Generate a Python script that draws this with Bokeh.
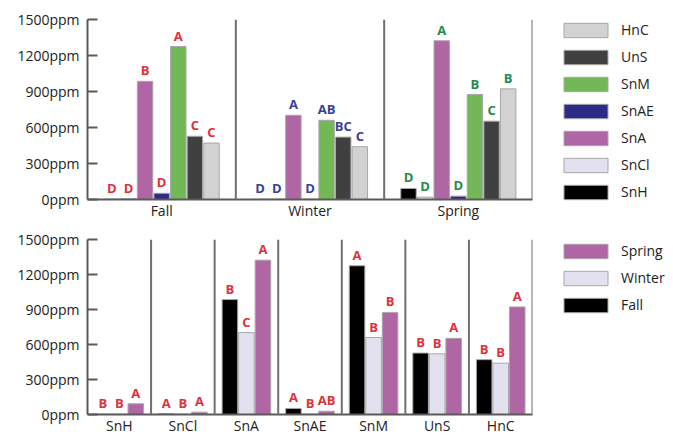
from bokeh.plotting import figure
from bokeh.models import (ColumnDataSource, FactorRange, Range1d, Span, Legend,
                          LegendItem, FixedTicker)
from bokeh.transform import dodge, factor_cmap
from bokeh.layouts import column
from bokeh.core.properties import value
from bokeh.embed import file_html
from bokeh.resources import INLINE

# ---------------- data ----------------
seasons = ["Fall", "Winter", "Spring"]
treatments = ["SnH", "SnCl", "SnA", "SnAE", "SnM", "UnS", "HnC"]

fall = [3, 6, 985, 52, 1275, 527, 470]
winter = [2, 3, 702, 3, 660, 520, 440]
spring = [92, 20, 1323, 28, 875, 653, 922]

# letters (top panel: grouping within season)
fall_letters = ["D", "D", "B", "D", "A", "C", "C"]
winter_letters = ["D", "D", "A", "D", "AB", "BC", "C"]
spring_letters = ["D", "D", "A", "D", "B", "C", "B"]

# letters (bottom panel: grouping within treatment, by season)
fall_letters_b = ["B", "A", "B", "A", "A", "B", "B"]
winter_letters_b = ["B", "B", "C", "B", "B", "B", "B"]
spring_letters_b = ["A", "A", "A", "AB", "B", "A", "A"]

y_ticks = [0, 300, 600, 900, 1200, 1500]
y_tick_labels = ["0ppm", "300ppm", "600ppm", "900ppm", "1200ppm", "1500ppm"]

# ---------------- styles ----------------
FONT = "Open Sans"
treat_colors = ["#000000", "#e3e1f0", "#b065a4", "#2e2a88", "#72b856", "#404040", "#d2d2d2"]
season_bar_colors = ["#000000", "#e3e1f0", "#b065a4"]
season_text_colors = ["#e0303c", "#3b3f9c", "#1f8b4c"]
LETTER_RED = "#e0303c"
AXIS_COL = "#5a5a5a"
OUTLINE = "#a8a8a8"


def base_fig(factors, frame_h, top_border):
    p = figure(x_range=FactorRange(factors=factors, range_padding=0, factor_padding=0),
               y_range=Range1d(0, 1500), frame_width=445, frame_height=frame_h,
               min_border_left=87, min_border_right=136, min_border_top=top_border,
               min_border_bottom=0, output_backend="svg", toolbar_location=None)
    p.outline_line_color = None
    p.xgrid.visible = False
    p.ygrid.visible = False
    p.background_fill_color = None
    p.border_fill_color = None

    p.yaxis.ticker = FixedTicker(ticks=y_ticks)
    p.yaxis.major_label_overrides = {t: l for t, l in zip(y_ticks, y_tick_labels)}
    p.yaxis.major_tick_in = 10
    p.yaxis.major_tick_out = 0
    p.yaxis.minor_tick_line_color = None
    p.yaxis.major_label_standoff = 8
    for ax in (p.xaxis[0], p.yaxis[0]):
        ax.axis_line_color = AXIS_COL
        ax.axis_line_width = 2
        ax.major_tick_line_color = AXIS_COL
        ax.major_tick_line_width = 2
        ax.major_label_text_font = FONT
        ax.major_label_text_font_size = "14px"
        ax.major_label_text_color = "#222222"
    p.xaxis.major_tick_line_color = None
    p.xaxis.major_tick_in = 0
    p.xaxis.major_tick_out = 0
    p.xaxis.major_label_standoff = 1
    p.xaxis.major_label_text_line_height = 1.0
    p.xaxis.major_label_text_baseline = "top"

    for k in range(1, len(factors) + 1):
        p.add_layout(Span(location=k, dimension="height", line_color="#707070", line_width=2))
    return p


def make_legend(items, y_loc):
    return Legend(items=items, location=(26, y_loc), padding=0, margin=0,
                  spacing=8, glyph_width=55, glyph_height=18, label_height=18,
                  label_standoff=8, label_text_font=FONT, label_text_font_size="14px",
                  label_text_color="#222222", border_line_color=None,
                  background_fill_alpha=0)


# ---------------- top panel: by season ----------------
p1 = base_fig(seasons, 180, 19)
pitch1, width1 = 0.112, 0.104
renderers1 = []
for i, t in enumerate(treatments):
    src = ColumnDataSource(dict(season=seasons,
                                top=[fall[i], winter[i], spring[i]],
                                letter=[fall_letters[i], winter_letters[i], spring_letters[i]]))
    off = (i - 3) * pitch1
    r = p1.vbar(x=dodge("season", off, range=p1.x_range), top="top", width=width1,
                source=src, fill_color=treat_colors[i], line_color=OUTLINE, line_width=1)
    renderers1.append((t, r))
    p1.text(x=dodge("season", off, range=p1.x_range), y="top", text="letter", source=src,
            text_align="center", text_baseline="bottom", y_offset=-2,
            text_color=factor_cmap("season", palette=season_text_colors, factors=seasons),
            text_font=value(FONT), text_font_size="13px", text_font_style="bold")

leg1 = make_legend([LegendItem(label=t, renderers=[r]) for t, r in reversed(renderers1)], -2)
p1.add_layout(leg1, "right")

# ---------------- bottom panel: by treatment ----------------
p2 = base_fig(treatments, 175, 17)
pitch2, width2 = 0.26, 0.245
season_vals = [fall, winter, spring]
season_letters_b = [fall_letters_b, winter_letters_b, spring_letters_b]
renderers2 = []
for j, s in enumerate(seasons):
    src = ColumnDataSource(dict(treatment=treatments, top=season_vals[j],
                                letter=season_letters_b[j]))
    off = (j - 1) * pitch2
    r = p2.vbar(x=dodge("treatment", off, range=p2.x_range), top="top", width=width2,
                source=src, fill_color=season_bar_colors[j], line_color=OUTLINE, line_width=1)
    renderers2.append((s, r))
    p2.text(x=dodge("treatment", off, range=p2.x_range), y="top", text="letter", source=src,
            text_align="center", text_baseline="bottom", y_offset=-2,
            text_color=LETTER_RED, text_font=value(FONT), text_font_size="13px",
            text_font_style="bold")

leg2 = make_legend([LegendItem(label=s, renderers=[r]) for s, r in reversed(renderers2)], 100)
p2.add_layout(leg2, "right")

layout = column(p1, p2, spacing=0)
open("out.html", "w").write(file_html(layout, INLINE))
